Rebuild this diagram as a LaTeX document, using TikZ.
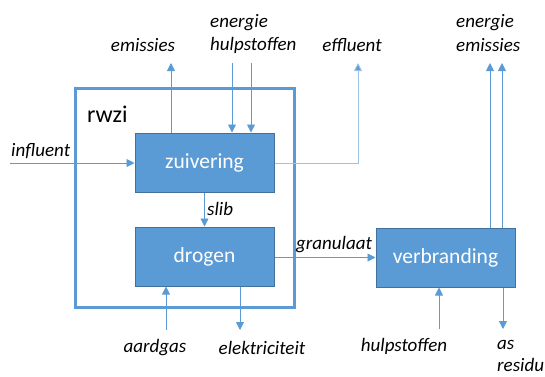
\documentclass[tikz,border=0pt]{standalone}
\usepackage{fontspec}
\setmainfont{Carlito}
\usetikzlibrary{arrows.meta}
\definecolor{fillb}{HTML}{5B9BD5}
\definecolor{edgeb}{HTML}{41719C}
\definecolor{lineb}{HTML}{5B9BD5}
\definecolor{lightb}{HTML}{9DC3E6}
\tikzset{
  proc/.style={draw=edgeb, line width=1pt, fill=fillb, text=white, font=\fontsize{21.5}{22}\selectfont, minimum width=139pt, minimum height=59pt, inner sep=0pt},
  flow/.style={draw=lineb, line width=0.9pt, -{Triangle[width=8pt,length=8pt]}},
  lab/.style={font=\itshape\fontsize{19}{22}\selectfont, inner sep=0pt, text=black},
}
\begin{document}
\begin{tikzpicture}[x=1pt,y=-1pt]
\useasboundingbox (0,0) rectangle (545,376);
% outer rwzi box
\node[draw=lineb, line width=3pt, minimum width=219pt, minimum height=219pt, inner sep=0pt] (rwzi) at (184.5,197.5) {};
\node[font=\fontsize{24}{24}\selectfont, anchor=west, inner sep=0pt] (rwzilab) at (87,114) {rwzi};
% process boxes
\node[proc] (zuiv) at (204.5,162.5) {zuivering};
\node[proc] (drog) at (204.5,256.5) {drogen};
\node[proc] (verb) at (445.5,257.5) {verbranding};
% coordinates
\coordinate (inf0) at (10,163);
\coordinate (emtop) at (171,63);
\coordinate (en1top) at (232,63);
\coordinate (en2top) at (251,63);
\coordinate (efftop) at (358,63);
\coordinate (efcorner) at (358,163);
\coordinate (re1top) at (490,63);
\coordinate (re2top) at (502,63);
\coordinate (aardbot) at (166,330);
\coordinate (elekbot) at (240,330);
\coordinate (hulpbot) at (439,329);
\coordinate (asbot) at (503,329);
% labels
\node[lab, anchor=west] (linf) at (11,151) {influent};
\node[lab] (lem) at (143,45) {emissies};
\node[lab, anchor=west] (len) at (210,23) {energie};
\node[lab, anchor=west] (lhulp) at (210,45) {hulpstoffen};
\node[lab] (leff) at (352,45) {effluent};
\node[lab, anchor=west] (lren) at (456,23) {energie};
\node[lab, anchor=west] (lrem) at (456,45) {emissies};
\node[lab, anchor=west] (lslib) at (207,209) {slib};
\node[lab] (lgran) at (334,245) {granulaat};
\node[lab] (laard) at (155,348) {aardgas};
\node[lab] (lelek) at (262,348) {elektriciteit};
\node[lab] (lhulp2) at (404,346) {hulpstoffen};
\node[lab, anchor=west] (las) at (497,345) {as};
\node[lab, anchor=west] (lres) at (497,365) {residu};
% flows
\draw[flow] (inf0) -- (zuiv.west |- inf0);
\draw[flow] (zuiv.north -| emtop) -- (emtop);
\draw[flow] (en1top) -- (zuiv.north -| en1top);
\draw[flow] (en2top) -- (zuiv.north -| en2top);
\draw[draw=lightb, line width=0.9pt, -{Triangle[width=8pt,length=8pt,fill=lineb]}] (zuiv.east |- efcorner) -- (efcorner) -- (efftop);
\draw[flow] (zuiv.south) -- (drog.north);
\draw[flow] (drog.east |- verb.west) -- (verb.west);
\draw[flow] (aardbot) -- (drog.south -| aardbot);
\draw[flow] (drog.south -| elekbot) -- (elekbot);
\draw[flow] (hulpbot) -- (verb.south -| hulpbot);
\draw[flow] (verb.south -| asbot) -- (asbot);
\draw[flow] (verb.north -| re1top) -- (re1top);
\draw[flow] (verb.north -| re2top) -- (re2top);
\end{tikzpicture}
\end{document}
